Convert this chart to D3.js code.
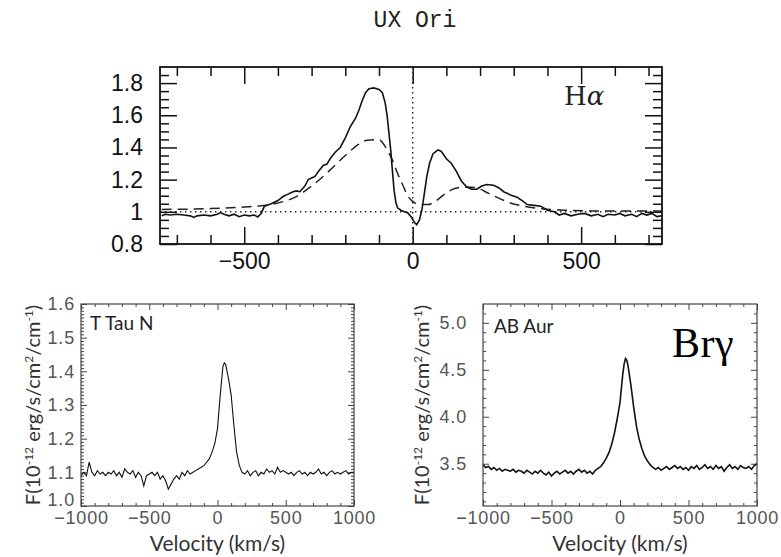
<!DOCTYPE html>
<html>
<head>
<meta charset="utf-8">
<script src="https://cdn.jsdelivr.net/npm/d3@7"></script>
<style>
  body { margin: 0; background: #fff; }
</style>
</head>
<body>
<svg id="chart" width="781" height="557"></svg>
<script>
// ---- UX Ori, H-alpha (observed = solid, model = dashed) ----
const haVel = [
  -745, -735, -720, -700, -680, -660, -650, -640, -620, -600,
  -580, -570, -560, -545, -530, -515, -500, -485, -470, -460,
  -450, -440, -420, -400, -385, -370, -355, -345, -335, -320,
  -310, -300, -290, -280, -265, -255, -245, -230, -215, -200,
  -185, -170, -160, -150, -140, -130, -115, -100, -90, -82,
  -76, -70, -65, -60, -55, -50, -45, -35, -25, -15,
  -5, 5, 12, 20, 28, 35, 42, 50, 60, 75,
  85, 100, 115, 130, 145, 160, 175, 190, 205, 220,
  240, 255, 270, 290, 310, 325, 340, 360, 380, 400,
  420, 435, 450, 470, 490, 510, 530, 550, 565, 580,
  600, 615, 630, 650, 665, 680, 695, 710, 725, 737
];
const haFlux = [
  0.975, 0.985, 0.98, 0.985, 0.98, 0.975, 0.965, 0.975, 0.98, 0.975,
  0.985, 0.995, 0.985, 0.975, 0.985, 0.97, 0.98, 0.975, 0.98, 0.968,
  0.99, 1.035, 1.05, 1.07, 1.095, 1.11, 1.125, 1.13, 1.125, 1.16,
  1.2, 1.21, 1.22, 1.25, 1.29, 1.295, 1.33, 1.37, 1.4, 1.46,
  1.53, 1.58, 1.63, 1.69, 1.74, 1.765, 1.77, 1.76, 1.74, 1.68,
  1.6, 1.48, 1.38, 1.25, 1.13, 1.06, 1.025, 1.01, 1.0, 0.995,
  0.97, 0.935, 0.92, 0.95, 1.02, 1.12, 1.22, 1.3, 1.36, 1.385,
  1.375, 1.33, 1.3, 1.25, 1.19, 1.155, 1.14, 1.14, 1.16, 1.17,
  1.165, 1.15, 1.125, 1.105, 1.09, 1.07, 1.045, 1.04, 1.035, 1.01,
  1.0, 0.98, 0.99, 0.975, 0.985, 0.99, 0.975, 0.985, 0.97, 0.985,
  0.98, 0.99, 0.975, 0.985, 0.97, 0.99, 0.98, 0.99, 0.97, 0.975
];
const haModelVel = [
  -745, -600, -500, -450, -400, -350, -300, -250, -200, -160,
  -135, -100, -80, -60, -45, -30, -15, 0, 20, 45,
  70, 95, 125, 160, 190, 220, 250, 290, 330, 380,
  450, 550, 650, 737
];
const haModelFlux = [
  1.015, 1.02, 1.03, 1.037, 1.055, 1.09, 1.16, 1.25, 1.35, 1.42,
  1.445, 1.448, 1.4, 1.32, 1.24, 1.17, 1.1, 1.065, 1.045, 1.045,
  1.07, 1.11, 1.145, 1.155, 1.15, 1.12, 1.09, 1.055, 1.035, 1.02,
  1.01, 1.005, 1.005, 1.005
];
const haXDomain = [-750, 740];
const haYDomain = [0.8, 1.9];
const haXMajor = [-500, 0, 500];
const haYMajor = [0.8, 1, 1.2, 1.4, 1.6, 1.8];
const haYLabels = ['0.8', '1', '1.2', '1.4', '1.6', '1.8'];

// ---- T Tau N, Br-gamma ----
const tTauVel = [
  -1000, -980, -960, -940, -920, -900, -880, -860, -840, -820,
  -800, -780, -760, -740, -720, -700, -680, -660, -640, -620,
  -600, -580, -560, -540, -520, -500, -480, -460, -440, -420,
  -400, -380, -360, -340, -320, -300, -280, -260, -240, -220,
  -200, -180, -160, -140, -120, -100, -80, -60, -40, -20,
  0, 20, 40, 50, 60, 80, 100, 120, 140, 160,
  180, 200, 220, 240, 260, 280, 300, 320, 340, 360,
  380, 400, 420, 440, 460, 480, 500, 520, 540, 560,
  580, 600, 620, 640, 660, 680, 700, 720, 740, 760,
  780, 800, 820, 840, 860, 880, 900, 920, 940, 960,
  980, 1000
];
const tTauFlux = [
  1.09, 1.1, 1.09, 1.13, 1.1, 1.09, 1.105, 1.095, 1.1, 1.09,
  1.1, 1.095, 1.105, 1.09, 1.1, 1.085, 1.11, 1.1, 1.095, 1.105,
  1.085, 1.1, 1.09, 1.06, 1.09, 1.095, 1.1, 1.09, 1.1, 1.08,
  1.09, 1.075, 1.05, 1.065, 1.08, 1.09, 1.08, 1.1, 1.09, 1.105,
  1.095, 1.1, 1.105, 1.11, 1.115, 1.12, 1.13, 1.14, 1.16, 1.185,
  1.23, 1.33, 1.415, 1.425, 1.42, 1.38, 1.33, 1.24, 1.16, 1.12,
  1.1, 1.095, 1.105, 1.09, 1.1, 1.105, 1.09, 1.1, 1.095, 1.11,
  1.1, 1.105, 1.095, 1.115, 1.1, 1.105, 1.1, 1.095, 1.1, 1.09,
  1.1, 1.105, 1.095, 1.1, 1.09, 1.1, 1.095, 1.1, 1.11, 1.095,
  1.1, 1.09, 1.1, 1.105, 1.095, 1.1, 1.095, 1.1, 1.105, 1.095,
  1.1, 1.1
];

// ---- AB Aur, Br-gamma ----
const abAurVel = [
  -1000, -980, -960, -940, -920, -900, -880, -860, -840, -820,
  -800, -780, -760, -740, -720, -700, -680, -660, -640, -620,
  -600, -580, -560, -540, -520, -500, -480, -460, -440, -420,
  -400, -380, -360, -340, -320, -300, -280, -260, -240, -220,
  -200, -180, -160, -140, -120, -100, -80, -60, -40, -20,
  0, 10, 20, 30, 40, 50, 60,
  80, 100, 120, 140, 160, 180, 200, 220, 240, 260,
  280, 300, 320, 340, 360, 380, 400, 420, 440, 460,
  480, 500, 520, 540, 560, 580, 600, 620, 640, 660,
  680, 700, 720, 740, 760, 780, 800, 820, 840, 860,
  880, 900, 920, 940, 960, 980, 1000
];
const abAurFlux = [
  3.49, 3.46, 3.47, 3.44, 3.46, 3.43, 3.45, 3.42, 3.44, 3.43,
  3.42, 3.44, 3.41, 3.43, 3.42, 3.40, 3.43, 3.41, 3.39, 3.42,
  3.40, 3.43, 3.40, 3.38, 3.41, 3.37, 3.40, 3.42, 3.39, 3.41,
  3.43, 3.40, 3.42, 3.39, 3.42, 3.44, 3.41, 3.43, 3.40, 3.42,
  3.39, 3.43, 3.45, 3.47, 3.51, 3.56, 3.62, 3.71, 3.83, 3.98,
  4.15, 4.30, 4.45, 4.56, 4.62, 4.60, 4.53,
  4.33, 4.10, 3.90, 3.76, 3.66, 3.58, 3.53, 3.49, 3.46, 3.44,
  3.46, 3.43, 3.45, 3.47, 3.44, 3.46, 3.48, 3.45, 3.47, 3.44,
  3.46, 3.43, 3.47, 3.45, 3.48, 3.44, 3.46, 3.49, 3.45, 3.47,
  3.44, 3.48, 3.45, 3.47, 3.42, 3.46, 3.49, 3.45, 3.47, 3.44,
  3.48, 3.46, 3.45, 3.47, 3.44, 3.48, 3.50
];

const brXDomain = [-1000, 1000];
const brXMajor = [-1000, -500, 0, 500, 1000];
const tTauYDomain = [1.0, 1.6];
const tTauYMajor = [1.0, 1.1, 1.2, 1.3, 1.4, 1.5, 1.6];
const abAurYDomain = [3.05, 5.2];
const abAurYMajor = [3.5, 4.0, 4.5, 5.0];

const svg = d3.select('#chart');
svg.append('rect').attr('width', 781).attr('height', 557).attr('fill', '#fff');

const toPoints = (xs, ys) => xs.map((v, i) => ({v, f: ys[i]}));

// Title
svg.append('text')
  .attr('x', 415)
  .attr('y', 27)
  .attr('text-anchor', 'middle')
  .style('font-family', '"Liberation Mono", monospace')
  .style('font-size', '23px')
  .attr('fill', '#222')
  .text('UX Ori');

drawHalpha();
drawBrGamma({
  left: 81, right: 354, top: 304, bottom: 506,
  yDomain: tTauYDomain, yMajor: tTauYMajor, yMinorStep: 0.01,
  data: toPoints(tTauVel, tTauFlux), lineWidth: 1.1,
  name: 'T Tau N', nameX: 90, nameY: 330,
  labelGap: 6, titleX: 40
});
drawBrGamma({
  left: 483, right: 757, top: 304, bottom: 506,
  yDomain: abAurYDomain, yMajor: abAurYMajor, yMinorStep: 0.1,
  data: toPoints(abAurVel, abAurFlux), lineWidth: 1.6,
  name: 'AB Aur', nameX: 494, nameY: 333,
  labelGap: 16, titleX: 429
});

// Big Br-gamma label
svg.append('text')
  .attr('x', 672)
  .attr('y', 357)
  .style('font-family', '"Liberation Serif", serif')
  .style('font-size', '42px')
  .style('letter-spacing', '0.5px')
  .attr('fill', '#000')
  .text('Brγ');

function drawHalpha() {
  const left = 160, right = 662, top = 67, bottom = 244;
  const x = d3.scaleLinear().domain(haXDomain).range([left, right]);
  const y = d3.scaleLinear().domain(haYDomain).range([bottom, top]);
  const g = svg.append('g')
    .style('font-family', '"DejaVu Sans", sans-serif')
    .style('font-size', '23px');

  const xMinor = d3.range(-700, 741, 100).filter(d => !haXMajor.includes(d));
  const yMinor = d3.range(0.85, 1.9, 0.05).map(d => +d.toFixed(2)).filter(d => !haYMajor.some(m => Math.abs(m - d) < 1e-6));

  // minor ticks on all four sides
  g.append('g').attr('transform', `translate(0,${bottom})`)
    .call(d3.axisBottom(x).tickValues(xMinor).tickSize(-9).tickFormat(''));
  g.append('g').attr('transform', `translate(0,${top})`)
    .call(d3.axisTop(x).tickValues(xMinor).tickSize(-9).tickFormat(''));
  g.append('g').attr('transform', `translate(${left},0)`)
    .call(d3.axisLeft(y).tickValues(yMinor).tickSize(-9).tickFormat(''));
  g.append('g').attr('transform', `translate(${right},0)`)
    .call(d3.axisRight(y).tickValues(yMinor).tickSize(-9).tickFormat(''));

  // major ticks with labels
  g.append('g').attr('transform', `translate(0,${bottom})`)
    .call(d3.axisBottom(x).tickValues(haXMajor).tickSize(-17).tickPadding(9));
  g.append('g').attr('transform', `translate(0,${top})`)
    .call(d3.axisTop(x).tickValues(haXMajor).tickSize(-17).tickFormat(''));
  g.append('g').attr('transform', `translate(${left},0)`)
    .call(d3.axisLeft(y).tickValues(haYMajor).tickSize(-17).tickPadding(17)
      .tickFormat((d, i) => haYLabels[i]));
  g.append('g').attr('transform', `translate(${right},0)`)
    .call(d3.axisRight(y).tickValues(haYMajor).tickSize(-17).tickFormat(''));

  g.selectAll('.domain').remove();
  g.selectAll('.tick line').attr('stroke', '#111').attr('stroke-width', 1.5);
  g.selectAll('.tick text').attr('fill', '#111').style('font-size', '23px');

  // dotted reference lines
  g.append('line')
    .attr('x1', left).attr('x2', right)
    .attr('y1', y(1)).attr('y2', y(1))
    .attr('stroke', '#222').attr('stroke-width', 1.4)
    .attr('stroke-dasharray', '1.4,3.6');
  g.append('line')
    .attr('x1', x(0)).attr('x2', x(0))
    .attr('y1', top).attr('y2', bottom)
    .attr('stroke', '#222').attr('stroke-width', 1.4)
    .attr('stroke-dasharray', '1.4,3.6');

  g.append('path')
    .datum(toPoints(haModelVel, haModelFlux))
    .attr('d', d3.line().x(d => x(d.v)).y(d => y(d.f)).curve(d3.curveMonotoneX))
    .attr('fill', 'none')
    .attr('stroke', '#222')
    .attr('stroke-width', 1.5)
    .attr('stroke-dasharray', '10,6');

  g.append('path')
    .datum(toPoints(haVel, haFlux))
    .attr('d', d3.line().x(d => x(d.v)).y(d => y(d.f)))
    .attr('fill', 'none')
    .attr('stroke', '#111')
    .attr('stroke-width', 1.6);

  // frame
  g.append('rect')
    .attr('x', left).attr('y', top)
    .attr('width', right - left).attr('height', bottom - top)
    .attr('fill', 'none')
    .attr('stroke', '#111')
    .attr('stroke-width', 1.8);

  g.append('text')
    .attr('x', 564)
    .attr('y', 105)
    .style('font-family', '"DejaVu Serif", serif')
    .style('font-size', '26px')
    .attr('fill', '#222')
    .html('H<tspan font-style="italic">α</tspan>');
}

function drawBrGamma(o) {
  const x = d3.scaleLinear().domain(brXDomain).range([o.left, o.right]);
  const y = d3.scaleLinear().domain(o.yDomain).range([o.bottom, o.top]);
  const g = svg.append('g')
    .style('font-family', '"DejaVu Sans", sans-serif');

  const xMinor = d3.range(-900, 1000, 100).filter(d => !brXMajor.includes(d));
  const yMinor = d3.range(Math.ceil(o.yDomain[0] / o.yMinorStep) * o.yMinorStep, o.yDomain[1], o.yMinorStep)
    .map(d => +d.toFixed(3))
    .filter(d => !o.yMajor.some(m => Math.abs(m - d) < 1e-6));

  const minorLen = -3, majorLen = -6;
  [[d3.axisBottom, o.bottom], [d3.axisTop, o.top]].forEach(([ax, pos]) => {
    g.append('g').attr('transform', `translate(0,${pos})`)
      .call(ax(x).tickValues(xMinor).tickSize(minorLen).tickFormat(''));
  });
  [[d3.axisLeft, o.left], [d3.axisRight, o.right]].forEach(([ax, pos]) => {
    g.append('g').attr('transform', `translate(${pos},0)`)
      .call(ax(y).tickValues(yMinor).tickSize(minorLen).tickFormat(''));
  });

  g.append('g').attr('class', 'xlab').attr('transform', `translate(0,${o.bottom})`)
    .call(d3.axisBottom(x).tickValues(brXMajor).tickSize(majorLen).tickPadding(5)
      .tickFormat(d3.format('d')));
  g.append('g').attr('transform', `translate(0,${o.top})`)
    .call(d3.axisTop(x).tickValues(brXMajor).tickSize(majorLen).tickFormat(''));
  g.append('g').attr('class', 'ylab').attr('transform', `translate(${o.left},0)`)
    .call(d3.axisLeft(y).tickValues(o.yMajor).tickSize(majorLen).tickPadding(o.labelGap)
      .tickFormat(d3.format('.1f')));
  g.append('g').attr('transform', `translate(${o.right},0)`)
    .call(d3.axisRight(y).tickValues(o.yMajor).tickSize(majorLen).tickFormat(''));

  g.selectAll('.domain').remove();
  g.selectAll('.tick line').attr('stroke', '#444').attr('stroke-width', 1);
  g.selectAll('.tick text')
    .attr('fill', '#555')
    .style('font-size', '18px')
    .style('font-weight', '200')
    .style('letter-spacing', '0.8px');
  // lowest y label sits a bit higher, clear of the x labels
  g.selectAll('.ylab .tick text').filter(d => d === o.yDomain[0]).attr('dy', '-0.05em');

  g.append('path')
    .datum(o.data)
    .attr('d', d3.line().x(d => x(d.v)).y(d => y(d.f)))
    .attr('fill', 'none')
    .attr('stroke', '#111')
    .attr('stroke-width', o.lineWidth);

  g.append('rect')
    .attr('x', o.left).attr('y', o.top)
    .attr('width', o.right - o.left).attr('height', o.bottom - o.top)
    .attr('fill', 'none')
    .attr('stroke', '#444')
    .attr('stroke-width', 1.2);

  // panel name
  g.append('text')
    .attr('x', o.nameX)
    .attr('y', o.nameY)
    .style('font-family', 'Lato, sans-serif')
    .style('font-size', '19px')
    .attr('fill', '#222')
    .text(o.name);

  // x title
  g.append('text')
    .attr('x', (o.left + o.right) / 2)
    .attr('y', 551)
    .attr('text-anchor', 'middle')
    .style('font-family', 'Lato, sans-serif')
    .style('font-size', '21px')
    .attr('fill', '#333')
    .text('Velocity (km/s)');

  // y title with superscripts
  const yt = g.append('text')
    .attr('transform', `translate(${o.titleX},${(o.top + o.bottom) / 2}) rotate(-90)`)
    .attr('text-anchor', 'middle')
    .style('font-family', 'Lato, sans-serif')
    .style('font-size', '20px')
    .attr('fill', '#333');
  const parts = [['F(10', false], ['-12', true], [' erg/s/cm', false], ['2', true], ['/cm', false], ['-1', true], [')', false]];
  parts.forEach(([t, sup], i) => {
    const prevSup = i > 0 && parts[i - 1][1];
    yt.append('tspan')
      .attr('dy', sup ? -7 : (prevSup ? 7 : 0))
      .style('font-size', sup ? '12px' : '20px')
      .text(t);
  });
}
</script>
</body>
</html>
